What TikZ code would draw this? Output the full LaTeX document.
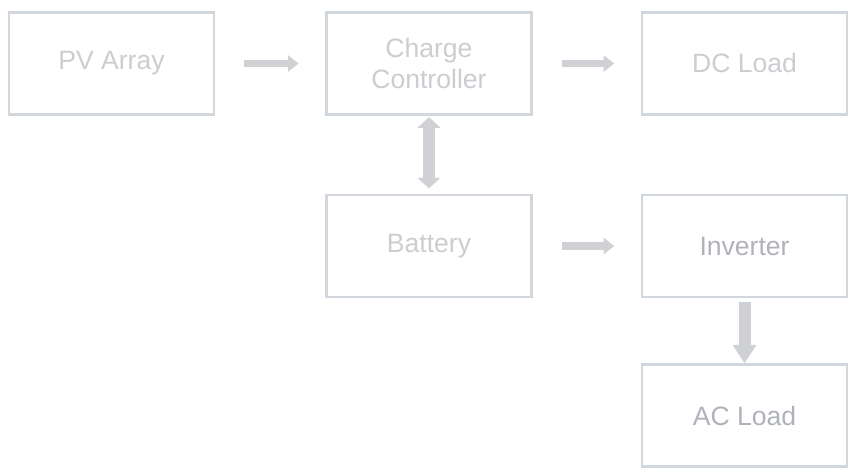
\documentclass[tikz,border=0pt]{standalone}
\usepackage{fontspec}
\setmainfont{Liberation Sans}
\setsansfont{Liberation Sans}
\usetikzlibrary{positioning,arrows.meta}
\definecolor{boxline}{RGB}{210,214,221}
\definecolor{boxtext}{RGB}{204,205,209}
\definecolor{boxtextdark}{RGB}{176,178,186}
\definecolor{arrowfill}{RGB}{208,209,213}

\begin{document}
\begin{tikzpicture}[
    font=\sffamily\fontsize{20}{23}\selectfont,
    comp/.style={draw=boxline, line width=2pt, rectangle, text=boxtext, align=center, minimum width=5.42cm, minimum height=2.70cm},
    flow/.style={draw=arrowfill, line width=6pt, -{Triangle[width=12pt,length=8pt]}, shorten <=22pt, shorten >=20pt},
    both/.style={draw=arrowfill, line width=9pt, {Triangle[width=17pt,length=8pt]}-{Triangle[width=17pt,length=8pt]}, shorten <=1pt, shorten >=4pt},
    down/.style={draw=arrowfill, line width=9pt, -{Triangle[width=17pt,length=14pt]}, shorten <=3pt, shorten >=0pt}
]

\useasboundingbox (-2.95,1.68) rectangle (19.62,-10.81);

\node[comp] (pv_c) at (0,0) {PV Array};
\node[comp, right=2.91cm of pv_c] (ctrl_c) {Charge\\Controller};
\node[comp, right=2.86cm of ctrl_c] (dc_c) {DC Load};
\node[comp, below=2.06cm of ctrl_c] (batt_c) {Battery};
\node[comp, below=2.06cm of dc_c, text=boxtextdark] (inv_c) {Inverter};
\node[comp, below=1.72cm of inv_c, text=boxtextdark] (ac_c) {AC Load};

\draw[flow] (pv_c) -- (ctrl_c);
\draw[flow] (ctrl_c) -- (dc_c);
\draw[flow] (batt_c) -- (inv_c);
\draw[both] (ctrl_c) -- (batt_c);
\draw[down] (inv_c) -- (ac_c);

\end{tikzpicture}
\end{document}
